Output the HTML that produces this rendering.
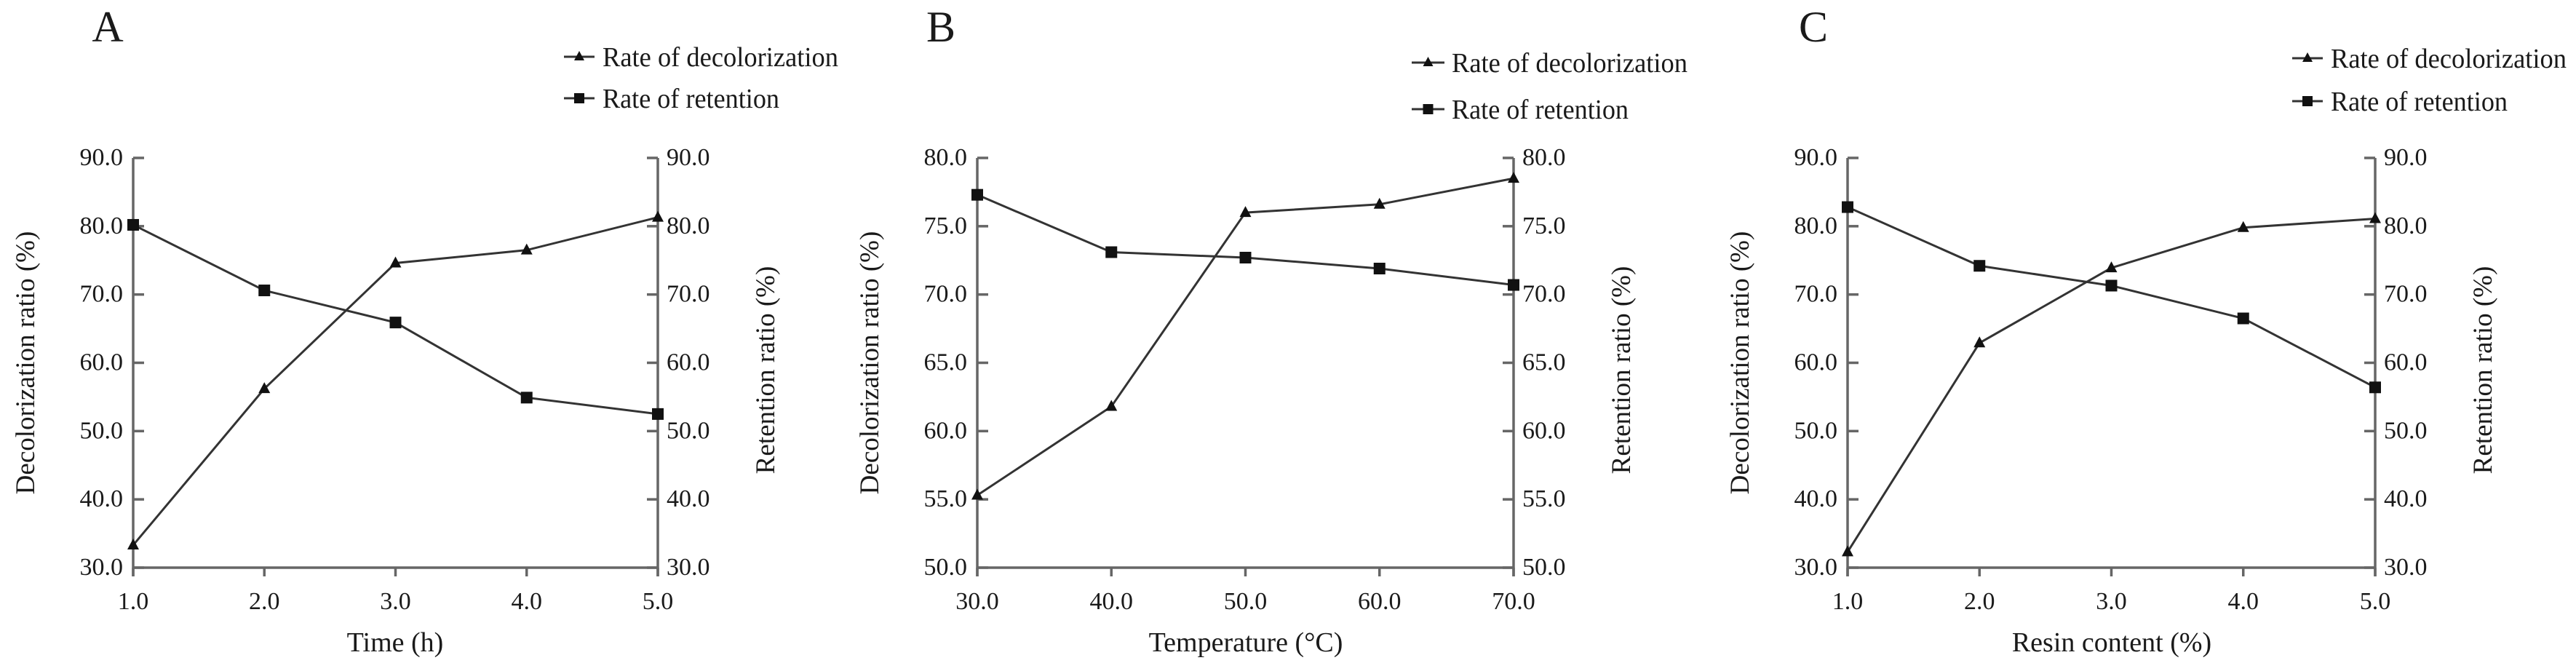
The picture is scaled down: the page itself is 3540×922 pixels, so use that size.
<!DOCTYPE html>
<html><head><meta charset="utf-8"><style>
html,body{margin:0;padding:0;background:#fff;}
svg{display:block;}
text{font-family:"Liberation Serif","Times New Roman",serif;fill:#1a1a1a;}
</style></head><body>
<svg id="chart" width="3540" height="922" viewBox="0 0 3540 922" xmlns="http://www.w3.org/2000/svg"></svg>
<script>
const panelLabels = ["A", "B", "C"];
const xTitles = ["Time (h)", "Temperature (\u00B0C)", "Resin content (%)"];
const xCatsA = [1.0, 2.0, 3.0, 4.0, 5.0];
const xCatsB = [30.0, 40.0, 50.0, 60.0, 70.0];
const xCatsC = [1.0, 2.0, 3.0, 4.0, 5.0];
const decolA = [33.3, 56.2, 74.6, 76.5, 81.3];
const retenA = [80.2, 70.6, 65.9, 54.9, 52.5];
const decolB = [55.3, 61.8, 76.0, 76.6, 78.5];
const retenB = [77.3, 73.1, 72.7, 71.9, 70.7];
const decolC = [32.3, 62.9, 73.9, 79.8, 81.1];
const retenC = [82.8, 74.2, 71.3, 66.5, 56.4];
const yTicksA = [30, 40, 50, 60, 70, 80, 90];
const yTicksB = [50, 55, 60, 65, 70, 75, 80];
const yTicksC = [30, 40, 50, 60, 70, 80, 90];

const NS = "http://www.w3.org/2000/svg";
const svg = document.getElementById("chart");
function mk(tag, attrs, parent) {
  const e = document.createElementNS(NS, tag);
  for (const k in attrs) e.setAttribute(k, attrs[k]);
  (parent || svg).appendChild(e);
  return e;
}
const layouts = [
  {x0:183, x1:904, lab:[148,43], legLine:[775,817], legText:828, legY:[78,135], xt:543},
  {x0:1343, x1:2080, lab:[1293,43], legLine:[1940,1985], legText:1995, legY:[86,150], xt:1712},
  {x0:2539, x1:3264, lab:[2492,43], legLine:[3150,3192], legText:3203, legY:[80,139], xt:2902}
];
const cats = [xCatsA, xCatsB, xCatsC];
const decs = [decolA, decolB, decolC];
const rets = [retenA, retenB, retenC];
const yts = [yTicksA, yTicksB, yTicksC];
const yTop = 217, yBot = 780;

function triangle(g, x, y) {
  const t = mk("polygon", {points:`${x},${y-9} ${x-8},${y+6} ${x+8},${y+6}`, fill:"#111"}, g);
  
  
}
function square(g, x, y) {
  const s = mk("rect", {x:x-8, y:y-8, width:16, height:16, fill:"#111"}, g);
  
  
}

for (let p = 0; p < 3; p++) {
  const L = layouts[p], xs = cats[p], yt = yts[p];
  const g = mk("g", {});
  
  
  const ymin = yt[0], ymax = yt[yt.length-1];
  const xmin = xs[0], xmax = xs[xs.length-1];
  const sx = v => L.x0 + (v - xmin) / (xmax - xmin) * (L.x1 - L.x0);
  const sy = v => yBot - (v - ymin) / (ymax - ymin) * (yBot - yTop);

  const lab = mk("text", {x:L.lab[0], y:L.lab[1], "font-size":60, "text-anchor":"middle", "dominant-baseline":"middle"}, g);
  lab.textContent = panelLabels[p];
  
  

  const axes = mk("g", {stroke:"#666", "stroke-width":3.5, fill:"none"}, g);
  
  
  mk("line", {x1:L.x0, y1:yTop, x2:L.x0, y2:yBot+12}, axes);
  mk("line", {x1:L.x1, y1:yTop, x2:L.x1, y2:yBot+12}, axes);
  mk("line", {x1:L.x0, y1:yBot, x2:L.x1, y2:yBot}, axes);
  yt.forEach(v => {
    mk("line", {x1:L.x0, y1:sy(v), x2:L.x0+15, y2:sy(v)}, axes);
    mk("line", {x1:L.x1, y1:sy(v), x2:L.x1-15, y2:sy(v)}, axes);
    const tl = mk("text", {x:L.x0-14, y:sy(v)+10, "font-size":34, "text-anchor":"end"}, g);
    tl.textContent = v.toFixed(1);
    
    
    const tr = mk("text", {x:L.x1+12, y:sy(v)+10, "font-size":34, "text-anchor":"start"}, g);
    tr.textContent = v.toFixed(1);
    
    
  });
  xs.forEach(v => {
    mk("line", {x1:sx(v), y1:yBot, x2:sx(v), y2:yBot+12}, axes);
    const t = mk("text", {x:sx(v), y:837, "font-size":34, "text-anchor":"middle"}, g);
    t.textContent = v.toFixed(1);
    
    
  });
  const xt = mk("text", {x:L.xt, y:895, "font-size":38, "text-anchor":"middle"}, g);
  xt.textContent = xTitles[p];
  
  
  const ylc = (yTop + yBot) / 2;
  const yl = mk("text", {x:0, y:0, "font-size":37, "text-anchor":"middle", transform:`translate(${L.x0-136},${ylc}) rotate(-90)`}, g);
  yl.textContent = "Decolorization ratio (%)";
  
  
  const yr = mk("text", {x:0, y:0, "font-size":37, "text-anchor":"middle", transform:`translate(${L.x1+160},${ylc+10}) rotate(-90)`}, g);
  yr.textContent = "Retention ratio (%)";
  
  

  const dPts = xs.map((v, i) => `${sx(v)},${sy(decs[p][i])}`).join(" ");
  const rPts = xs.map((v, i) => `${sx(v)},${sy(rets[p][i])}`).join(" ");
  const dl = mk("polyline", {points:dPts, fill:"none", stroke:"#333", "stroke-width":3}, g);
  
  
  const rl = mk("polyline", {points:rPts, fill:"none", stroke:"#333", "stroke-width":3}, g);
  
  
  xs.forEach((v, i) => triangle(g, sx(v), sy(decs[p][i])));
  xs.forEach((v, i) => square(g, sx(v), sy(rets[p][i])));

  const lg = mk("g", {}, g);
  
  
  const names = ["Rate of decolorization", "Rate of retention"];
  const widths = [324, 243];
  for (let k = 0; k < 2; k++) {
    const y = L.legY[k];
    mk("line", {x1:L.legLine[0], y1:y, x2:L.legLine[1], y2:y, stroke:"#333", "stroke-width":3}, lg);
    const mx = (L.legLine[0] + L.legLine[1]) / 2;
    if (k === 0) mk("polygon", {points:`${mx},${y-8} ${mx-7},${y+5} ${mx+7},${y+5}`, fill:"#111"}, lg);
    else mk("rect", {x:mx-7, y:y-7, width:14, height:14, fill:"#111"}, lg);
    const t = mk("text", {x:L.legText, y:y+13, "font-size":38, textLength:widths[k], lengthAdjust:"spacingAndGlyphs"}, lg);
    t.textContent = names[k];
    
    
  }
}
</script>
</body></html>
